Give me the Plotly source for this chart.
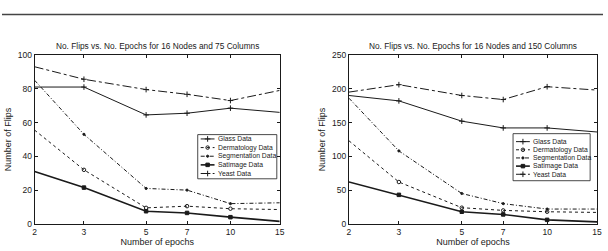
import plotly.graph_objects as go

epochs = [2, 3, 5, 7, 10, 15]
series_names = ["Glass Data", "Dermatology Data", "Segmentation Data", "Satimage Data", "Yeast Data"]

# 16 nodes, 75 columns
glass_75 = [81, 81, 64.5, 65.5, 68.5, 66]
derm_75 = [55.5, 32, 9.5, 10.5, 9, 8.5]
seg_75 = [85, 53, 21, 20, 12, 12.5]
sat_75 = [31, 21.5, 7.5, 6.5, 4, 1.5]
yeast_75 = [93, 85.6, 79.5, 76.7, 73, 79]

# 16 nodes, 150 columns
glass_150 = [190, 182, 152, 142, 142, 136]
derm_150 = [123, 62, 24, 20, 18, 17]
seg_150 = [186, 108, 45, 30, 22, 22]
sat_150 = [62, 43, 18, 14, 6, 3]
yeast_150 = [195, 206, 190, 184, 203, 198]

titles = ["No. Flips vs. No. Epochs for 16 Nodes and 75 Columns",
          "No. Flips vs. No. Epochs for 16 Nodes and 150 Columns"]
y_max = [100, 250]
y_ticks = [[0, 20, 40, 60, 80, 100], [0, 50, 100, 150, 200, 250]]

INK = "#1a1a1a"
FONT = "Liberation Sans, Arial, sans-serif"
styles = [
    dict(dash="solid", width=1.0, symbol="cross-thin-open", size=4),
    dict(dash="dot", width=1.0, symbol="circle-open", size=3.5),
    dict(dash="4px,2px,1px,2px", width=1.0, symbol="circle", size=2.2),
    dict(dash="solid", width=1.6, symbol="square", size=3.5),
    dict(dash="dashdot", width=1.0, symbol="cross-thin-open", size=4),
]

fig = go.Figure()
W, H = 608, 251

sets = [[glass_75, derm_75, seg_75, sat_75, yeast_75],
        [glass_150, derm_150, seg_150, sat_150, yeast_150]]
axes = [("x", "y"), ("x2", "y2")]
for k, data in enumerate(sets):
    for name, vals, st in zip(series_names, data, styles):
        fig.add_trace(go.Scatter(
            x=epochs, y=vals, name=name, mode="lines+markers",
            xaxis=axes[k][0], yaxis=axes[k][1], showlegend=False,
            line=dict(color=INK, width=st["width"], dash=st["dash"]),
            marker=dict(symbol=st["symbol"], size=st["size"], color=INK,
                        line=dict(color=INK, width=1)),
            cliponaxis=False))

# manual compact legends on an overlay pixel axis
legend_boxes = [dict(x0=198, x1=278, y0=135, y1=181, row0=139.5, step=9.0),
                dict(x0=517, x1=595, y0=134, y1=183, row0=142.3, step=8.5)]
for box in legend_boxes:
    fig.add_trace(go.Scatter(
        x=[box["x0"], box["x1"], box["x1"], box["x0"], box["x0"]],
        y=[box["y0"], box["y0"], box["y1"], box["y1"], box["y0"]],
        mode="lines", fill="toself", fillcolor="white",
        line=dict(color=INK, width=0.8), xaxis="x3", yaxis="y3",
        showlegend=False, hoverinfo="skip"))
    for i, (name, st) in enumerate(zip(series_names, styles)):
        yy = box["row0"] + i * box["step"]
        lx0 = box["x0"] + 3
        lx1 = box["x0"] + 17
        fig.add_trace(go.Scatter(
            x=[lx0, lx1], y=[yy, yy], mode="lines", xaxis="x3", yaxis="y3",
            line=dict(color=INK, width=st["width"], dash=st["dash"]),
            showlegend=False, hoverinfo="skip"))
        fig.add_trace(go.Scatter(
            x=[(lx0 + lx1) / 2], y=[yy], mode="markers", xaxis="x3", yaxis="y3",
            marker=dict(symbol=st["symbol"], size=st["size"], color=INK,
                        line=dict(color=INK, width=1)),
            showlegend=False, hoverinfo="skip"))
        fig.add_annotation(x=lx1 + 1.5, y=yy, xref="x3", yref="y3", text=name,
                           showarrow=False, xanchor="left", yanchor="middle",
                           font=dict(size=6.8, color=INK, family=FONT))

xdom = [[33 / W, 281 / W], [351 / W, 602 / W]]
ydom = [23 / H, 199 / H]

axis_common = dict(showgrid=False, zeroline=False, showline=True, linecolor=INK,
                   linewidth=1, mirror="allticks", ticks="inside", ticklen=3,
                   tickcolor=INK, tickfont=dict(size=8.5, color=INK, family=FONT))

layout = dict(
    width=W, height=H, margin=dict(l=0, r=0, t=0, b=0),
    paper_bgcolor="white", plot_bgcolor="rgba(0,0,0,0)", showlegend=False,
    font=dict(family=FONT, color=INK),
)
for k in range(2):
    xa = "xaxis" if k == 0 else "xaxis2"
    ya = "yaxis" if k == 0 else "yaxis2"
    layout[xa] = dict(axis_common, type="log", domain=xdom[k],
                      range=[0.30103, 1.176091], tickvals=epochs,
                      ticktext=[str(e) for e in epochs],
                      title=dict(text="Number of epochs", font=dict(size=9, color=INK, family=FONT),
                                 standoff=2),
                      anchor="y" if k == 0 else "y2")
    layout[ya] = dict(axis_common, domain=ydom, range=[0, y_max[k]],
                      tickvals=y_ticks[k],
                      title=dict(text="Number of Flips", font=dict(size=9, color=INK, family=FONT),
                                 standoff=4),
                      anchor="x" if k == 0 else "x2")
layout["xaxis3"] = dict(domain=[0, 1], range=[0, W], visible=False, fixedrange=True, anchor="y3")
layout["yaxis3"] = dict(domain=[0, 1], range=[H, 0], visible=False, fixedrange=True, anchor="x3")
fig.update_layout(**layout)

# subplot titles
for k in range(2):
    fig.add_annotation(x=(xdom[k][0] + xdom[k][1]) / 2, y=1 - 42.7 / H, xref="paper", yref="paper",
                       text=titles[k], showarrow=False, xanchor="center", yanchor="middle",
                       font=dict(size=8.3, color=INK, family=FONT))

# separator rule at top of page
fig.add_shape(type="line", xref="paper", yref="paper", x0=0, x1=1,
              y0=1 - 10 / H, y1=1 - 10 / H, line=dict(color="#444", width=1.5))

fig.write_html("out.html")
